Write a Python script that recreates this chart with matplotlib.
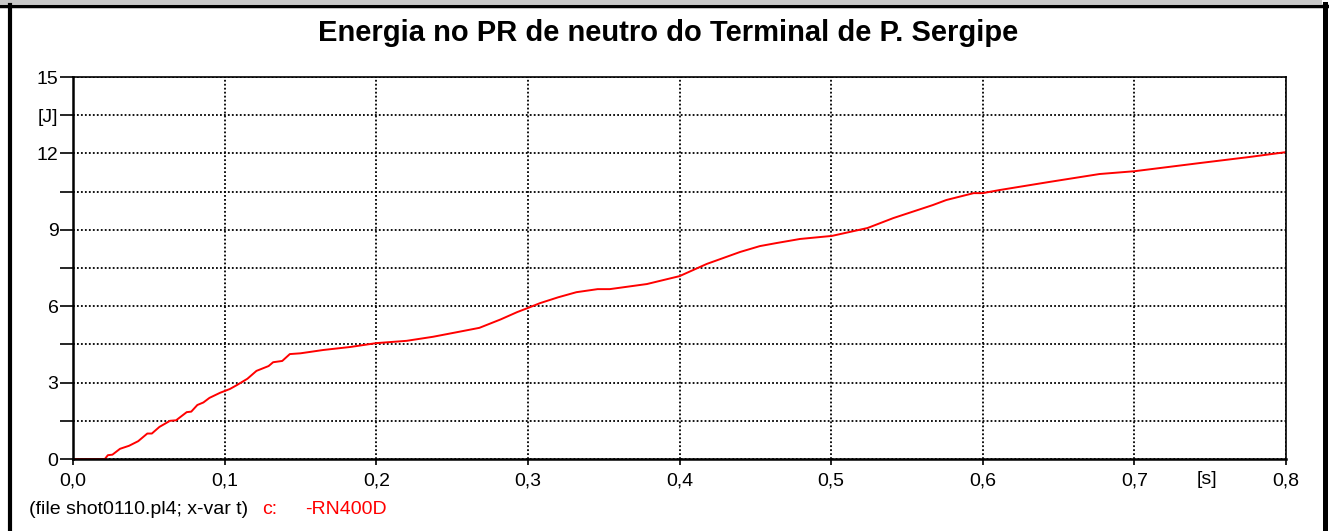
import numpy as np
import matplotlib.pyplot as plt
from matplotlib.lines import Line2D
from matplotlib.patches import Rectangle

plt.rcParams['font.family'] = ['Liberation Sans', 'DejaVu Sans']

# energy curve, t in s, E in J
t = [0.0, 0.021, 0.023, 0.026, 0.031, 0.037, 0.043, 0.049, 0.052, 0.057, 0.064,
     0.068, 0.075, 0.078, 0.082, 0.086, 0.090, 0.097, 0.1035, 0.108, 0.115,
     0.121, 0.129, 0.132, 0.138, 0.143, 0.150, 0.165, 0.183, 0.200, 0.220,
     0.2375, 0.255, 0.268, 0.282, 0.293, 0.300, 0.308, 0.320, 0.332, 0.346,
     0.354, 0.3785, 0.400, 0.418, 0.440, 0.453, 0.464, 0.4795, 0.5005, 0.524,
     0.541, 0.567, 0.576, 0.594, 0.600, 0.611, 0.644, 0.677, 0.700, 0.743,
     0.776, 0.800]
energia = [0.0, 0.0, 0.15, 0.17, 0.40, 0.52, 0.70, 1.00, 1.00, 1.26, 1.50,
           1.52, 1.84, 1.86, 2.12, 2.22, 2.40, 2.60, 2.75, 2.90, 3.15,
           3.46, 3.65, 3.80, 3.85, 4.12, 4.15, 4.28, 4.40, 4.55, 4.64,
           4.80, 5.00, 5.15, 5.48, 5.77, 5.93, 6.12, 6.35, 6.55, 6.67,
           6.67, 6.87, 7.18, 7.66, 8.13, 8.36, 8.48, 8.64, 8.76, 9.07,
           9.46, 9.97, 10.17, 10.44, 10.44, 10.56, 10.88, 11.19, 11.30, 11.62,
           11.86, 12.05]

xticks = [0.0, 0.1, 0.2, 0.3, 0.4, 0.5, 0.6, 0.7, 0.8]
xlabels = ['0,0', '0,1', '0,2', '0,3', '0,4', '0,5', '0,6', '0,7', '0,8']
yticks = [0, 1.5, 3, 4.5, 6, 7.5, 9, 10.5, 12, 13.5, 15]
ylabels = ['0', '', '3', '', '6', '', '9', '', '12', '[J]', '15']

fig = plt.figure(figsize=(13.29, 5.31), dpi=100)
ax = fig.add_axes([73/1329, 72/531, 1213/1329, 382/531])

ax.plot(t, energia, color='red', lw=1.4)

ax.set_xlim(0, 0.8)
ax.set_ylim(0, 15)
ax.set_xticks(xticks)
ax.set_xticklabels(xlabels)
ax.set_yticks(yticks)
ax.set_yticklabels(ylabels)
ax.tick_params(axis='y', direction='out', length=9.5, width=1.2, labelsize=14, pad=1)
ax.tick_params(axis='x', direction='out', length=4, width=1.2, labelsize=14, pad=6)
ax.grid(True, color='black', linestyle=(0, (1, 1.2)), lw=1.3)

ax.spines['left'].set_linewidth(1.8)
ax.spines['bottom'].set_linewidth(1.8)
ax.spines['top'].set_linewidth(1.2)
ax.spines['right'].set_linewidth(1.2)

fig.text(1207/1329, 1 - 480/531, '[s]', ha='center', va='center', fontsize=14)

fig.text(668/1329, 1 - 33/531, 'Energia no PR de neutro do Terminal de P. Sergipe',
         ha='center', va='center', fontsize=21, fontweight='bold')

fig.text(29/1329, 1 - 510/531, '(file shot0110.pl4; x-var t)',
         ha='left', va='center', fontsize=14)
fig.text(262/1329, 1 - 510/531, 'c:', color='red',
         ha='left', va='center', fontsize=14)
fig.text(305/1329, 1 - 510/531, '-RN400D', color='red',
         ha='left', va='center', fontsize=14)

# window frame
fig.patches.append(Rectangle((0, 1 - 4/531), 1322/1329, 4/531, transform=fig.transFigure,
                             facecolor='#c8c8c8', edgecolor='none'))
fig.lines.append(Line2D([0, 1327/1329], [1 - 5.5/531, 1 - 5.5/531], transform=fig.transFigure,
                        color='black', lw=2.5))
fig.lines.append(Line2D([10/1329, 10/1329], [0, 1 - 5/531], transform=fig.transFigure,
                        color='black', lw=3))
fig.lines.append(Line2D([1324.5/1329, 1324.5/1329], [0, 1 - 4/531], transform=fig.transFigure,
                        color='black', lw=3.6))

fig.savefig('out.png', dpi=100)
